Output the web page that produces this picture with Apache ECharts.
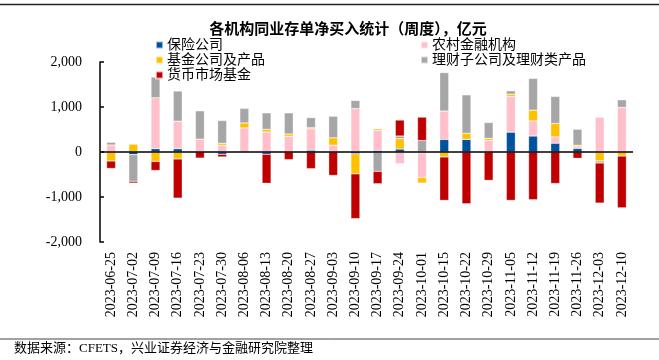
<!DOCTYPE html>
<html>
<head>
<meta charset="utf-8">
<script src="https://cdn.jsdelivr.net/npm/echarts@6/dist/echarts.min.js"></script>
<style>
html,body{margin:0;padding:0;background:#fff;}
#chart{width:659px;height:360px;}
</style>
</head>
<body>
<div id="chart"></div>
<script>
var dates = ['2023-06-25','2023-07-02','2023-07-09','2023-07-16','2023-07-23','2023-07-30','2023-08-06','2023-08-13','2023-08-20','2023-08-27','2023-09-03','2023-09-10','2023-09-17','2023-09-24','2023-10-01','2023-10-15','2023-10-22','2023-10-29','2023-11-05','2023-11-12','2023-11-19','2023-11-26','2023-12-03','2023-12-10'];
var insurance = [0, -60, 75, 75, 10, -50, -10, -50, 0, 40, 0, -40, 35, 65, -20, 280, 280, 0, 440, 355, 195, 80, 0, 0];
var rural = [155, 0, 1130, 610, 275, 150, 535, 445, 350, 475, 150, 965, 445, -260, -545, 630, 0, 260, 795, 335, 140, 35, 775, 990];
var fund = [-200, 175, -210, -155, 0, 45, 110, 60, 50, 25, 165, -445, 35, 230, -125, -110, 135, 45, 50, 240, 300, 35, -200, -90];
var wealth = [60, -590, 460, 670, 630, 505, 320, 365, 470, 225, 480, 180, -430, 60, 255, 855, 855, 350, 75, 705, 600, 355, -45, 170];
var money = [-165, -40, -200, -870, -135, -60, 15, -645, -170, -370, -520, -995, -275, 355, 520, -965, -1150, -630, -1075, -1060, -700, -140, -890, -1150];
var yTicks = [-2000, -1000, 0, 1000, 2000];

var FONT = "'Liberation Serif', 'Noto Sans CJK SC', serif";
function commas(v){
  var s = Math.abs(v).toString().replace(/\B(?=(\d{3})+(?!\d))/g, ',');
  return (v < 0 ? '-' : '') + s;
}
function mk(name, data, color, extra){
  var s = {
    name: name, type: 'bar', stack: 'all', data: data, barWidth: 9,
    itemStyle: {color: color, borderColor: 'rgba(255,255,255,0.6)', borderWidth: 0.5},
    emphasis: {disabled: true}
  };
  if (extra) for (var k in extra) s[k] = extra[k];
  return s;
}
var chart = echarts.init(document.getElementById('chart'), null, {renderer: 'canvas'});
chart.setOption({
  animation: false,
  backgroundColor: '#fff',
  title: {
    text: '各机构同业存单净买入统计（周度），亿元',
    left: 343, top: 18, textAlign: 'center',
    textStyle: {fontFamily: FONT, fontSize: 15, fontWeight: 'bold', color: '#000'}
  },
  legend: [{
    left: 150, top: 33, orient: 'vertical', itemWidth: 7, itemHeight: 7, itemGap: 1,
    icon: 'rect', data: ['保险公司', '基金公司及产品', '货币市场基金'],
    textStyle: {fontFamily: FONT, fontSize: 14, color: '#000', padding: [0,0,0,-1]},
    z: 10
  }, {
    left: 415, top: 33, orient: 'vertical', itemWidth: 7, itemHeight: 7, itemGap: 1,
    icon: 'rect', data: ['农村金融机构', '理财子公司及理财类产品'],
    textStyle: {fontFamily: FONT, fontSize: 14, color: '#000', padding: [0,0,0,-1]},
    z: 10
  }],
  grid: {left: 100, right: 26, top: 62, bottom: 118},
  xAxis: {
    type: 'category', data: dates, position: 'bottom',
    axisLine: {show: false, onZero: false}, axisTick: {show: false},
    axisLabel: {rotate: 90, interval: 0, margin: 10, fontFamily: FONT, fontSize: 14, color: '#000'}
  },
  yAxis: {
    type: 'value', min: yTicks[0], max: yTicks[yTicks.length-1], interval: 1000,
    axisLine: {show: true, lineStyle: {color: '#000', width: 1.5}},
    axisTick: {show: true, inside: true, length: 4, lineStyle: {color: '#000', width: 1.5}},
    splitLine: {show: false},
    axisLabel: {margin: 18, fontFamily: FONT, fontSize: 14, color: '#000', formatter: commas}
  },
  graphic: [
    {type: 'line', shape: {x1: 0, y1: 4.5, x2: 659, y2: 4.5}, style: {stroke: '#222', lineWidth: 1.5}},
    {type: 'line', shape: {x1: 0, y1: 339, x2: 659, y2: 339}, style: {stroke: '#444', lineWidth: 1}},
    {type: 'text', left: 14, top: 342, style: {text: '数据来源：CFETS，兴业证券经济与金融研究院整理', fontFamily: FONT, fontSize: 13, fill: '#000'}}
  ],
  series: [
    mk('保险公司', insurance, '#00519E'),
    mk('农村金融机构', rural, '#FFC0CB'),
    mk('基金公司及产品', fund, '#FFC000'),
    mk('理财子公司及理财类产品', wealth, '#A6A6A6'),
    mk('货币市场基金', money, '#C00000', {
      markLine: {silent: true, symbol: 'none', label: {show: false},
        lineStyle: {color: '#000', width: 1.5, type: 'solid'}, data: [{yAxis: 0}]}
    })
  ]
});
</script>
</body>
</html>
